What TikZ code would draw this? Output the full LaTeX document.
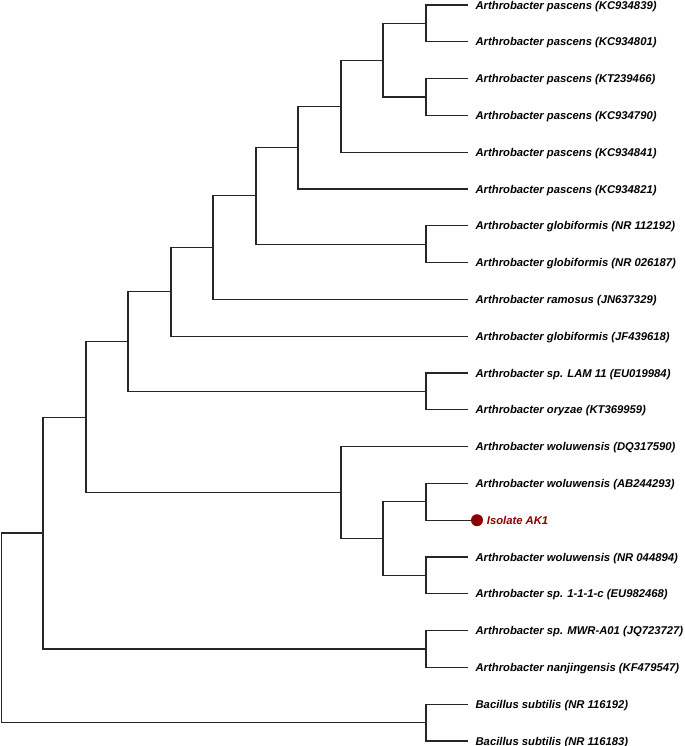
\documentclass[tikz,border=0pt]{standalone}
\usepackage{fontspec}
\setmainfont{Liberation Sans}
\usepackage{xcolor}
\usetikzlibrary{positioning}
\definecolor{isored}{HTML}{8B0000}

\begin{document}
\begin{tikzpicture}[x=0.75pt, y=-0.75pt,
  taxon/.style={anchor=west, inner xsep=5.5pt, inner ysep=1pt,
                text height=6.05pt, text depth=0pt,
                font=\fontsize{8.45}{10}\selectfont\bfseries\itshape},
  branch/.style={draw=black!85, line width=0.85pt},
  isodot/.style={circle, fill=isored, inner sep=0pt, minimum size=9pt}
]
\useasboundingbox (0,0) rectangle (685,746);
% leaves
\node[taxon] (t1) at (468,5) {Arthrobacter pascens (KC934839)};
\node[taxon] (t2) at (468,41.8) {Arthrobacter pascens (KC934801)};
\node[taxon] (t3) at (468,78.6) {Arthrobacter pascens (KT239466)};
\node[taxon] (t4) at (468,115.4) {Arthrobacter pascens (KC934790)};
\node[taxon] (t5) at (468,152.2) {Arthrobacter pascens (KC934841)};
\node[taxon] (t6) at (468,189) {Arthrobacter pascens (KC934821)};
\node[taxon] (t7) at (468,225.8) {Arthrobacter globiformis (NR 112192)};
\node[taxon] (t8) at (468,262.6) {Arthrobacter globiformis (NR 026187)};
\node[taxon] (t9) at (468,299.4) {Arthrobacter ramosus (JN637329)};
\node[taxon] (t10) at (468,336.2) {Arthrobacter globiformis (JF439618)};
\node[taxon] (t11) at (468,373) {Arthrobacter sp. LAM 11 (EU019984)};
\node[taxon] (t12) at (468,409.8) {Arthrobacter oryzae (KT369959)};
\node[taxon] (t13) at (468,446.6) {Arthrobacter woluwensis (DQ317590)};
\node[taxon] (t14) at (468,483.4) {Arthrobacter woluwensis (AB244293)};
\node[isodot] (iso) at (477,520.2) {};
\node[taxon, text=isored, inner xsep=2pt, right=0.5pt of iso] (t15) {Isolate AK1};
\node[taxon] (t16) at (468,557) {Arthrobacter woluwensis (NR 044894)};
\node[taxon] (t17) at (468,593.8) {Arthrobacter sp. 1-1-1-c (EU982468)};
\node[taxon] (t18) at (468,630.6) {Arthrobacter sp. MWR-A01 (JQ723727)};
\node[taxon] (t19) at (468,667.4) {Arthrobacter nanjingensis (KF479547)};
\node[taxon] (t20) at (468,704.2) {Bacillus subtilis (NR 116192)};
\node[taxon] (t21) at (468,741) {Bacillus subtilis (NR 116183)};
% internal nodes
\coordinate (c12) at (426,23.4);
\coordinate (c34) at (426,97);
\coordinate (n1234) at (383,60.2);
\coordinate (n5) at (341,106.2);
\coordinate (n6) at (298,147.6);
\coordinate (c78) at (426,244.2);
\coordinate (n78) at (256,195.9);
\coordinate (n9) at (213,247.65);
\coordinate (n10) at (171,291.9);
\coordinate (c1112) at (426,391.4);
\coordinate (n1112) at (128,341.65);
\coordinate (c1415) at (426,501.8);
\coordinate (c1617) at (426,575.4);
\coordinate (nsub) at (383,538.6);
\coordinate (nwol) at (341,492.6);
\coordinate (nA) at (86,417.1);
\coordinate (c1819) at (426,649);
\coordinate (nB) at (43,533.05);
\coordinate (c2021) at (426,722.6);
\coordinate (root) at (1.3,627.8);
% branches
\draw[branch] (c12) |- (t1.west);
\draw[branch] (c12) |- (t2.west);
\draw[branch] (c34) |- (t3.west);
\draw[branch] (c34) |- (t4.west);
\draw[branch] (n1234) |- (c12);
\draw[branch] (n1234) |- (c34);
\draw[branch] (n5) |- (n1234);
\draw[branch] (n5) |- (t5.west);
\draw[branch] (n6) |- (n5);
\draw[branch] (n6) |- (t6.west);
\draw[branch] (c78) |- (t7.west);
\draw[branch] (c78) |- (t8.west);
\draw[branch] (n78) |- (n6);
\draw[branch] (n78) |- (c78);
\draw[branch] (n9) |- (n78);
\draw[branch] (n9) |- (t9.west);
\draw[branch] (n10) |- (n9);
\draw[branch] (n10) |- (t10.west);
\draw[branch] (c1112) |- (t11.west);
\draw[branch] (c1112) |- (t12.west);
\draw[branch] (n1112) |- (n10);
\draw[branch] (n1112) |- (c1112);
\draw[branch] (c1415) |- (t14.west);
\draw[branch] (c1415) |- (iso.west);
\draw[branch] (c1617) |- (t16.west);
\draw[branch] (c1617) |- (t17.west);
\draw[branch] (nsub) |- (c1415);
\draw[branch] (nsub) |- (c1617);
\draw[branch] (nwol) |- (t13.west);
\draw[branch] (nwol) |- (nsub);
\draw[branch] (nA) |- (n1112);
\draw[branch] (nA) |- (nwol);
\draw[branch] (c1819) |- (t18.west);
\draw[branch] (c1819) |- (t19.west);
\draw[branch] (nB) |- (nA);
\draw[branch] (nB) |- (c1819);
\draw[branch] (c2021) |- (t20.west);
\draw[branch] (c2021) |- (t21.west);
\draw[branch] (root) |- (nB);
\draw[branch] (root) |- (c2021);
\end{tikzpicture}
\end{document}
